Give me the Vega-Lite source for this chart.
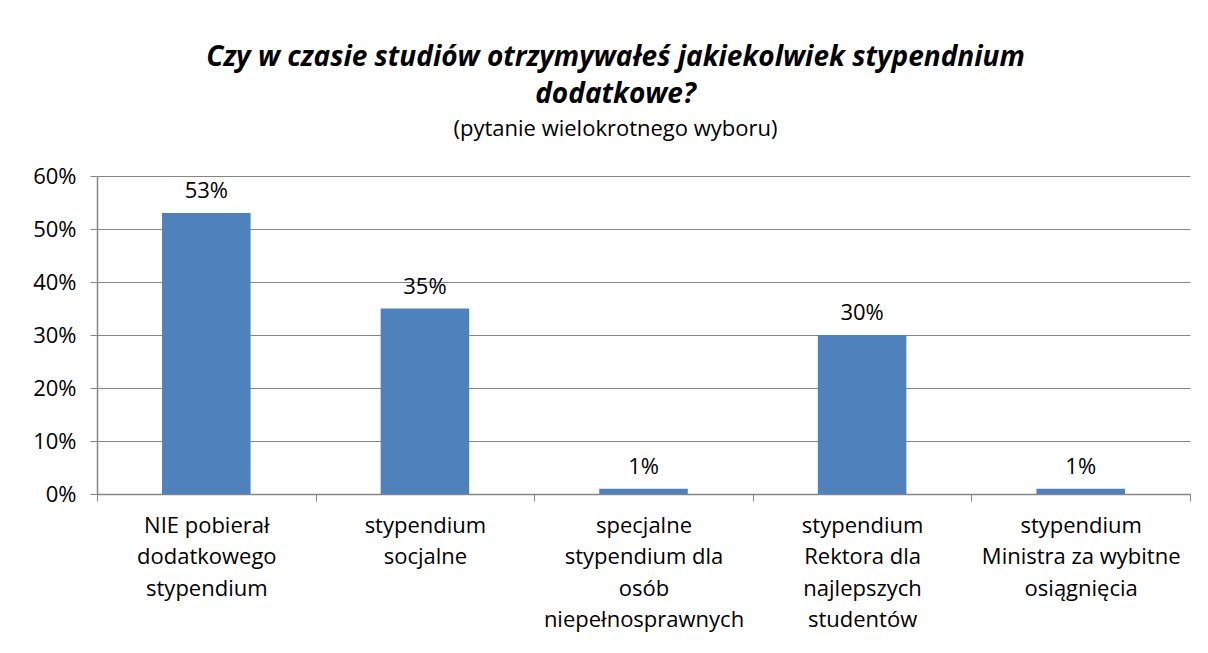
{
  "$schema": "https://vega.github.io/schema/vega-lite/v6.json",
  "autosize": {"type": "none"},
  "width": 1093,
  "height": 318,
  "padding": {"left": 97, "top": 176, "right": 18, "bottom": 159},
  "background": "white",
  "title": {
    "text": ["Czy w czasie studiów otrzymywałeś jakiekolwiek stypendnium", "dodatkowe?"],
    "subtitle": "(pytanie wielokrotnego wyboru)",
    "anchor": "middle",
    "dx": -28,
    "offset": 25,
    "font": "Open Sans",
    "fontSize": 28,
    "fontWeight": "bold",
    "fontStyle": "italic",
    "color": "black",
    "lineHeight": 37,
    "subtitleFont": "Open Sans",
    "subtitleFontSize": 22,
    "subtitleColor": "black",
    "subtitlePadding": 10
  },
  "data": {
    "values": [
      {"kategoria": "NIE pobierał|dodatkowego|stypendium", "wartosc": 0.53},
      {"kategoria": "stypendium|socjalne", "wartosc": 0.35},
      {"kategoria": "specjalne|stypendium dla|osób|niepełnosprawnych", "wartosc": 0.01},
      {"kategoria": "stypendium|Rektora dla|najlepszych|studentów", "wartosc": 0.30},
      {"kategoria": "stypendium|Ministra za wybitne|osiągnięcia", "wartosc": 0.01}
    ]
  },
  "encoding": {
    "x": {
      "field": "kategoria",
      "type": "nominal",
      "sort": null,
      "scale": {"paddingInner": 0, "paddingOuter": 0},
      "axis": {
        "title": null,
        "labelAngle": 0,
        "labelExpr": "datum.value ? split(datum.value, '|') : ''",
        "labelFont": "Open Sans",
        "labelFontSize": 22,
        "labelColor": "black",
        "labelLineHeight": 31.5,
        "labelPadding": 14,
        "labelBaseline": "top",
        "tickBand": "extent",
        "tickSize": 7,
        "tickColor": "#868686",
        "domainColor": "#868686",
        "domainWidth": 1.5,
        "labelLimit": 300
      }
    },
    "y": {
      "field": "wartosc",
      "type": "quantitative",
      "scale": {"domain": [0, 0.6], "nice": false},
      "axis": {
        "title": null,
        "format": ".0%",
        "values": [0, 0.1, 0.2, 0.3, 0.4, 0.5, 0.6],
        "labelFont": "Open Sans",
        "labelFontSize": 22,
        "labelColor": "black",
        "labelPadding": 14,
        "tickSize": 7,
        "tickColor": "#868686",
        "domainColor": "#868686",
        "domainWidth": 1.5,
        "gridColor": "#868686",
        "gridWidth": 1.2
      }
    }
  },
  "layer": [
    {"mark": {"type": "bar", "color": "#4F81BD", "width": {"band": 0.405}}},
    {
      "mark": {"type": "text", "baseline": "bottom", "dy": -10, "font": "Open Sans", "fontSize": 22, "color": "black"},
      "encoding": {"text": {"field": "wartosc", "type": "quantitative", "format": ".0%"}}
    }
  ],
  "config": {"view": {"stroke": null}}
}
